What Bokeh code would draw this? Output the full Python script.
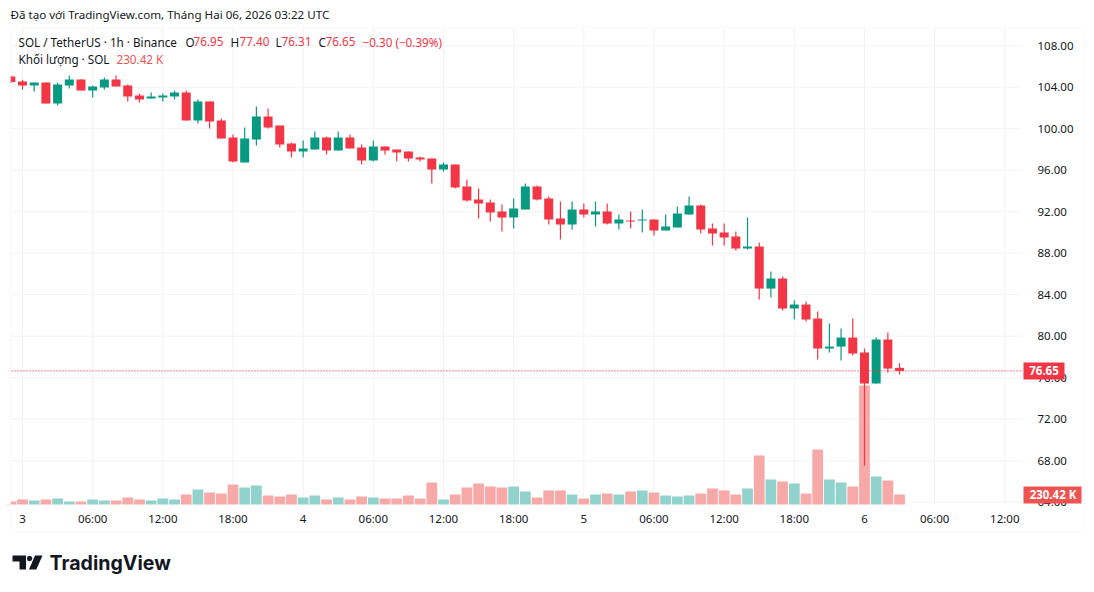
from bokeh.plotting import figure
from bokeh.models import (Range1d, LinearAxis, FixedTicker, NumeralTickFormatter, Label,
                          BoxAnnotation, PolyAnnotation, ColumnDataSource)
from bokeh.embed import file_html
from bokeh.resources import INLINE

# ---------- data ----------
hours = list(range(-1, 76))   # hours since 3 Feb 00:00 UTC
opens = [105.03,104.55,104.16,104.45,102.43,104.16,104.74,103.68,103.97,104.74,104.16,103.20,102.91,103.00,103.10,103.49,100.79,102.62,100.79,99.15,96.74,98.96,101.17,100.31,98.57,97.80,97.99,99.15,97.90,99.15,98.18,96.93,98.28,97.99,97.80,97.22,97.12,96.06,96.55,94.43,93.17,92.88,92.02,91.44,92.21,94.43,93.27,91.34,90.76,92.21,91.73,92.02,90.86,91.15,91.15,91.24,90.18,90.47,91.73,92.59,90.38,89.99,89.61,88.45,88.64,84.59,85.56,82.67,83.05,81.70,78.81,79.00,79.87,78.43,75.44,79.68,76.95]
highs = [105.09,104.71,104.45,104.45,104.45,105.12,104.74,104.16,104.93,105.12,104.26,103.39,103.49,103.39,103.68,103.68,102.81,102.62,100.98,99.44,100.11,102.14,101.94,100.31,98.67,98.86,99.73,99.24,99.73,99.44,98.47,98.86,98.28,97.99,97.80,97.32,97.12,96.74,96.55,95.10,94.23,93.17,92.69,93.27,94.71,94.52,93.46,92.98,92.98,92.79,92.98,92.79,91.73,92.02,92.21,91.24,91.73,92.50,93.46,92.69,90.86,90.86,90.09,91.44,89.03,86.23,85.75,83.44,83.34,82.38,81.22,80.74,81.70,78.81,79.87,80.35,77.40]
lows = [104.39,103.78,103.58,102.43,102.23,103.87,103.68,103.00,103.78,104.06,102.62,102.52,102.91,102.62,102.81,100.79,100.50,100.02,99.05,96.74,96.74,98.38,100.02,98.18,97.22,97.22,97.99,97.51,97.90,98.09,96.55,96.83,97.51,96.83,96.83,96.83,94.71,95.87,94.23,92.98,91.34,91.05,90.09,90.38,92.21,93.08,90.76,89.32,90.28,91.44,90.57,90.76,90.28,90.38,90.00,89.70,90.18,90.47,91.73,89.89,88.74,88.74,88.26,88.35,83.53,83.72,82.47,81.63,81.41,77.75,78.43,77.65,78.13,67.53,75.44,76.50,76.31]
closes = [104.51,104.16,104.45,102.43,104.26,104.74,103.68,104.06,104.74,104.06,103.10,102.81,103.10,103.20,103.49,100.79,102.62,100.69,99.05,96.84,99.05,101.17,100.11,98.47,97.80,98.09,99.15,97.90,99.15,98.09,96.93,98.28,97.90,97.70,97.12,97.03,96.06,96.55,94.33,93.08,92.79,91.92,91.44,92.30,94.43,93.17,91.24,90.76,92.21,91.73,92.02,90.86,91.24,91.05,91.24,90.18,90.57,91.82,92.59,90.28,89.89,89.51,88.45,88.64,84.59,85.56,82.67,83.05,81.61,78.81,79.00,79.87,78.33,75.44,79.68,76.88,76.65]
volumes_k = [69,115,92,115,138,69,69,115,92,92,161,115,92,138,115,230,346,276,253,461,392,438,207,184,230,161,207,115,161,115,184,161,138,138,207,138,507,115,230,392,484,415,392,415,300,161,323,323,230,138,230,253,230,300,323,276,207,184,207,253,369,323,230,369,1129,576,530,484,253,1267,576,507,415,2742,645,553,230]

time_ticks = [0,6,12,18,24,30,36,42,48,54,60,66,72,78,84]
time_labels = ["3","06:00","12:00","18:00","4","06:00","12:00","18:00","5","06:00","12:00","18:00","6","06:00","12:00"]
price_ticks = [64,68,72,76,80,84,88,92,96,100,104,108]
last_price = 76.65
last_volume_label = "230.42 K"

UP, DOWN = "#089981", "#f23645"
VUP, VDOWN = "#92d2cc", "#f7a9a7"
TXT = "#131722"
FONT = "Noto Sans"

# ---------- layout: the frame fills the canvas, axes sit at fixed locations ----------
PANE_L, PANE_R, PANE_T, PANE_B = 11, 1022, 28, 504
W, H = 1086, 584
PX_PER_UNIT = 10.375
PX_PER_HOUR = 11.694
K_PER_PX = 23.04
hour_at = lambda px: (px - 22) / PX_PER_HOUR
price_at = lambda py: 104 - (py - 86.7) / PX_PER_UNIT

p = figure(width=W, height=H, output_backend="svg", toolbar_location=None,
           x_range=Range1d(hour_at(0), hour_at(W)), y_range=Range1d(price_at(H), price_at(0)),
           x_axis_type=None, y_axis_type=None,
           min_border_left=0, min_border_right=0, min_border_top=0, min_border_bottom=0,
           background_fill_color="white", border_fill_color="white", outline_line_color=None)
p.extra_y_ranges = {"vol": Range1d(-(H - PANE_B) * K_PER_PX, PANE_B * K_PER_PX)}
p.grid.visible = False

yax = LinearAxis(ticker=FixedTicker(ticks=price_ticks), formatter=NumeralTickFormatter(format="0.00"),
                 fixed_location=hour_at(PANE_R))
xax = LinearAxis(ticker=FixedTicker(ticks=time_ticks), fixed_location=price_at(PANE_B),
                 major_label_overrides=dict(zip(time_ticks, time_labels)))
for a in (xax, yax):
    a.axis_line_color = None
    a.major_tick_line_color = None
    a.minor_tick_line_color = None
    a.major_label_text_color = TXT
    a.major_label_text_font = FONT
    a.major_label_text_font_size = "11.5px"
yax.major_label_standoff = 9
xax.major_label_standoff = 0
p.add_layout(yax, "right")
p.add_layout(xax, "below")

# grid lines, limited to the chart pane
GRID = "#f3f3f3"
p.segment(x0=time_ticks, x1=time_ticks, y0=[price_at(PANE_B)] * len(time_ticks), y1=[price_at(PANE_T)] * len(time_ticks),
          line_color=GRID, line_width=1)
p.segment(x0=[hour_at(PANE_L)] * len(price_ticks), x1=[hour_at(PANE_R)] * len(price_ticks), y0=price_ticks, y1=price_ticks,
          line_color=GRID, line_width=1)

src = ColumnDataSource(dict(
    x=hours, o=opens, h=highs, l=lows, c=closes, v=volumes_k,
    top=[max(a, b) for a, b in zip(opens, closes)],
    bot=[min(a, b) for a, b in zip(opens, closes)],
    col=[DOWN if c < o else UP for o, c in zip(opens, closes)],
    vcol=[VDOWN if c < o else VUP for o, c in zip(opens, closes)],
))
p.vbar(x="x", top="v", bottom=0, width=0.92, color="vcol", line_color=None, source=src, y_range_name="vol")
p.segment(x0="x", x1="x", y0="l", y1="h", line_color="col", line_width=1.2, source=src)
p.vbar(x="x", top="top", bottom="bot", width=0.77, fill_color="col", line_color=None, source=src)

last_line = p.segment(x0=[hour_at(PANE_L)], x1=[hour_at(PANE_R)], y0=[last_price], y1=[last_price],
                      line_color=DOWN, line_width=1.3)
last_line.glyph.line_dash = [1, 2]

# pixel helpers: image coords -> frame-relative screen units
sx = lambda x: x
sy = lambda y: H - y

def box(left, right, top, bottom, **kw):
    p.add_layout(BoxAnnotation(left=sx(left), right=sx(right), top=sy(top), bottom=sy(bottom),
                               left_units="screen", right_units="screen", top_units="screen", bottom_units="screen", **kw))

def text(x, y, s, color=TXT, size="11.7px", font=FONT, style="normal", align="left", base="middle"):
    p.add_layout(Label(x=sx(x), y=sy(y), x_units="screen", y_units="screen", text=s, text_color=color,
                       text_font=font, text_font_size=size, text_font_style=style, text_align=align,
                       text_baseline=base))

# the pane cuts the first, partly scrolled-off candle
box(0, 10, 28, 504, fill_color="white", fill_alpha=1, line_color=None)
# outer panel border
box(10, 1084, 27, 532, fill_color=None, line_color="#f1f1f1", line_width=2)

# price tags
for top, bot, right, col, s, cx in [(362, 379, 1064, DOWN, f"{last_price:.2f}", 1043.5),
                                    (486, 503, 1081, "#ef5350", last_volume_label, 1052.5)]:
    box(1023, right, top, bot, fill_color=col, fill_alpha=1, line_color=None)
    text(cx, (top + bot) / 2 - 0.5, s, color="white", style="bold", align="center", size="11.5px")

# header + legend
text(10, 13.5, "Đã tạo với TradingView.com, Tháng Hai 06, 2026 03:22 UTC", size="11.6px")
text(18, 41, "SOL / TetherUS · 1h · Binance")
legend_items = [(185, "O", TXT), (193, "76.95", DOWN), (230, "H", TXT), (239, "77.40", DOWN),
                (275, "L", TXT), (281, "76.31", DOWN), (318, "C", TXT), (325, "76.65", DOWN),
                (362, "−0.30 (−0.39%)", DOWN)]
for x, s, c in legend_items:
    text(x, 41, s, color=c)
text(18, 58, "Khối lượng · SOL")
text(116, 58, last_volume_label, color="#ef5350")

# TradingView logo
def poly(pts):
    p.add_layout(PolyAnnotation(xs=[sx(a) for a, _ in pts], ys=[sy(b) for _, b in pts],
                                xs_units="screen", ys_units="screen", fill_color="#131722", fill_alpha=1,
                                line_color=None))
poly([(12, 555), (25.5, 555), (25.5, 569), (19, 569), (19, 561), (12, 561)])
poly([(29, 555.2), (31, 556), (31.8, 558), (31, 560), (29, 560.8), (27, 560), (26.4, 558), (27, 556)])
poly([(34.5, 555), (42, 555), (35.8, 569), (28.5, 569)])
text(49, 562, "TradingView", color="#131722", size="19.6px", font="Inter", style="bold")

open("out.html", "w").write(file_html(p, INLINE))
